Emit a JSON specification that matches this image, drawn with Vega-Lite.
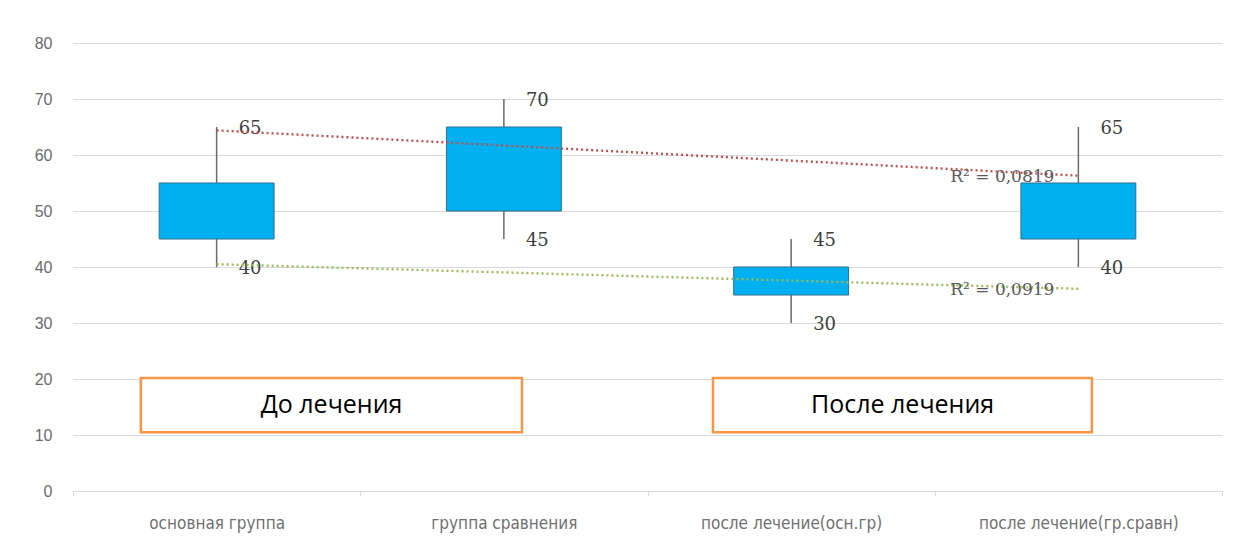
{
  "$schema": "https://vega.github.io/schema/vega-lite/v6.json",
  "autosize": "none",
  "width": 1149,
  "height": 448,
  "padding": {"left": 73, "top": 43, "right": 16, "bottom": 52},
  "background": "white",
  "config": {"view": {"stroke": null}},
  "datasets": {
    "boxes": [
      {"group": "основная группа", "min": 40, "q1": 45, "q3": 55, "max": 65},
      {"group": "группа сравнения", "min": 45, "q1": 50, "q3": 65, "max": 70},
      {"group": "после лечение(осн.гр)", "min": 30, "q1": 35, "q3": 40, "max": 45},
      {"group": "после лечение(гр.сравн)", "min": 40, "q1": 45, "q3": 55, "max": 65}
    ],
    "trends": [
      {"series": "max", "group": "основная группа", "value": 64.4, "r2": ""},
      {"series": "max", "group": "после лечение(гр.сравн)", "value": 56.3, "r2": "R² = 0,0819"},
      {"series": "min", "group": "основная группа", "value": 40.5, "r2": ""},
      {"series": "min", "group": "после лечение(гр.сравн)", "value": 36.1, "r2": "R² = 0,0919"}
    ],
    "notes": [
      {"label": "До лечения", "x0": 0.236, "x1": 1.563, "xm": 0.9, "y0": 10.5, "y1": 20.2, "ym": 15.3},
      {"label": "После лечения", "x0": 2.228, "x1": 3.547, "xm": 2.888, "y0": 10.5, "y1": 20.2, "ym": 15.3}
    ]
  },
  "layer": [
    {
      "encoding": {
        "x": {
          "field": "group",
          "type": "nominal",
          "sort": null,
          "scale": {
            "domain": ["основная группа", "группа сравнения", "после лечение(осн.гр)", "после лечение(гр.сравн)"],
            "paddingInner": 0,
            "paddingOuter": 0
          },
          "axis": {
            "title": null,
            "labelAngle": 0,
            "labelLimit": 0,
            "labelFont": "Liberation Sans Narrow, DejaVu Sans Condensed, sans-serif",
            "labelFontSize": 17,
            "labelColor": "#707070",
            "labelPadding": 19,
            "tickBand": "extent",
            "tickColor": "#d9d9d9",
            "tickSize": 5,
            "domainColor": "#d9d9d9",
            "grid": false
          }
        }
      },
      "layer": [
        {
          "data": {"name": "boxes"},
          "mark": {"type": "rule", "color": "#6b6b6b", "strokeWidth": 1.5},
          "encoding": {
            "y": {
              "field": "min",
              "type": "quantitative",
              "scale": {"domain": [0, 80], "nice": false},
              "axis": {
                "title": null,
                "values": [0, 10, 20, 30, 40, 50, 60, 70, 80],
                "labelFont": "Liberation Sans, sans-serif",
                "labelFontSize": 16,
                "labelColor": "#6b6b6b",
                "labelPadding": 21,
                "ticks": false,
                "domain": false,
                "grid": true,
                "gridColor": "#d9d9d9",
                "gridWidth": 1
              }
            },
            "y2": {"field": "max"}
          }
        },
        {
          "data": {"name": "boxes"},
          "mark": {"type": "bar", "width": {"band": 0.4}, "color": "#00b0f0", "stroke": "#2f6f8f", "strokeWidth": 1},
          "encoding": {
            "y": {"field": "q1", "type": "quantitative"},
            "y2": {"field": "q3"}
          }
        },
        {
          "data": {"name": "boxes"},
          "mark": {"type": "text", "align": "left", "baseline": "middle", "dx": 22, "dy": 2, "font": "DejaVu Serif", "fontSize": 18, "color": "#404040"},
          "encoding": {
            "y": {"field": "max", "type": "quantitative"},
            "text": {"field": "max", "type": "quantitative"}
          }
        },
        {
          "data": {"name": "boxes"},
          "mark": {"type": "text", "align": "left", "baseline": "middle", "dx": 22, "dy": 2, "font": "DejaVu Serif", "fontSize": 18, "color": "#404040"},
          "encoding": {
            "y": {"field": "min", "type": "quantitative"},
            "text": {"field": "min", "type": "quantitative"}
          }
        },
        {
          "data": {"name": "trends"},
          "mark": {"type": "line", "strokeWidth": 2.4, "strokeDash": [2, 3]},
          "encoding": {
            "y": {"field": "value", "type": "quantitative"},
            "detail": {"field": "series"},
            "color": {
              "field": "series",
              "type": "nominal",
              "scale": {"domain": ["max", "min"], "range": ["#c0504d", "#9bbb59"]},
              "legend": null
            }
          }
        },
        {
          "data": {"name": "trends"},
          "mark": {"type": "text", "align": "right", "baseline": "middle", "dx": -24, "dy": 1, "font": "DejaVu Serif", "fontSize": 17, "color": "#595959"},
          "encoding": {
            "y": {"field": "value", "type": "quantitative"},
            "text": {"field": "r2"}
          }
        }
      ]
    },
    {
      "data": {"name": "notes"},
      "encoding": {
        "x": {"field": "x0", "type": "quantitative", "scale": {"domain": [0, 4], "nice": false, "zero": false}, "axis": null}
      },
      "layer": [
        {
          "mark": {"type": "rect", "fill": "white", "stroke": "#f79646", "strokeWidth": 2.5},
          "encoding": {
            "x2": {"field": "x1"},
            "y": {"field": "y0", "type": "quantitative"},
            "y2": {"field": "y1"}
          }
        },
        {
          "mark": {"type": "text", "align": "center", "baseline": "middle", "font": "Open Sans", "fontSize": 25, "color": "#000000"},
          "encoding": {
            "x": {"field": "xm", "type": "quantitative"},
            "y": {"field": "ym", "type": "quantitative"},
            "text": {"field": "label"}
          }
        }
      ]
    }
  ],
  "resolve": {"scale": {"x": "independent"}}
}
